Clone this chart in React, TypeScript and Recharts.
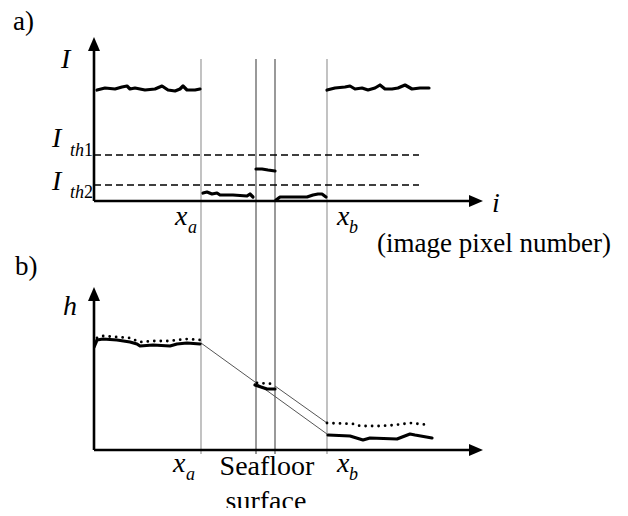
import React from 'react';
import { ComposedChart, Line, XAxis, YAxis, ReferenceLine } from 'recharts';

// pixel index along the scan line (i), intensity I (panel a) and height h (panel b)
const highLeftPix = [3, 11, 21, 28, 33, 36, 41, 51, 61, 68, 74, 81, 86, 89, 93, 101, 106];
const highLeftI = [111, 113, 112, 114, 115, 112, 113, 111, 112, 115, 111, 110, 112, 115, 111, 111, 112];
const highRightPix = [233, 241, 251, 256, 261, 268, 274, 281, 286, 291, 298, 304, 311, 318, 326, 335];
const highRightI = [111, 113, 114, 115, 112, 113, 111, 113, 116, 112, 112, 113, 116, 112, 113, 113];
const midPix = [162, 168, 174, 181];
const midI = [32, 32, 31, 30];
const lowLeftPix = [109, 113, 118, 123, 126, 139, 153, 156, 159];
const lowLeftI = [8, 9, 7, 8, 6, 6, 5, 7, 4];
const lowRightPix = [182, 186, 196, 206, 213, 219, 224, 228, 232];
const lowRightI = [1, 4, 4, 4, 4, 6, 7, 7, 4];

const hSolidLeftPix = [0, 3, 9, 23, 36, 43, 46, 59, 76, 83, 93, 106];
const hSolidLeft = [103, 110, 111, 110, 108, 106, 104, 105, 104, 106, 107, 106];
const hDotLeftPix = [3, 9, 23, 36, 43, 46, 59, 76, 83, 93, 106];
const hDotLeft = [112, 114, 113, 112, 109, 108, 109, 109, 110, 111, 110];
const hSolidMidPix = [161, 167, 173, 181];
const hSolidMid = [65, 63, 61, 61];
const hDotMidPix = [163, 181];
const hDotMid = [67, 66];
const hDotRightPix = [233, 261, 266, 286, 301, 316, 336];
const hDotRight = [27, 26, 24, 24, 25, 27, 25];
const hSolidRightPix = [234, 256, 269, 276, 303, 316, 321, 338];
const hSolidRight = [15, 14, 10, 12, 11, 16, 15, 12];

const xA = 107;
const xM1 = 162;
const xM2 = 181;
const xB = 233;
const thresholds = [46, 16]; // I_th1, I_th2
const thresholdEnd = 325;
const bridgeFrom = [[107, 107], [181, 64]];
const bridgeTo = [[233, 16], [233, 27]];

const zip = (xs: number[], ys: number[], key: string) =>
  xs.map((i, k) => ({ i, [key]: ys[k] }));

const ArrowLine = (p: any) => {
  const { x1, y1, x2, y2 } = p;
  const len = Math.hypot(x2 - x1, y2 - y1);
  const ux = (x2 - x1) / len;
  const uy = (y2 - y1) / len;
  const bx = x2 - ux * 14;
  const by = y2 - uy * 14;
  const pts = `${x2},${y2} ${bx - uy * 6},${by + ux * 6} ${bx + uy * 6},${by - ux * 6}`;
  return (
    <g>
      <line x1={x1} y1={y1} x2={bx} y2={by} stroke="#000" strokeWidth={2.6} />
      <polygon points={pts} fill="#000" />
    </g>
  );
};

const rm = { fontFamily: "'Liberation Serif', 'Times New Roman', serif" };
const it = { fontFamily: "'Liberation Serif', 'Times New Roman', serif", fontStyle: 'italic' as const };

// annotation layer in page coordinates (shifted back over the body margin)
const Labels = () => (
  <svg width={628} height={516} style={{ position: 'absolute', left: -8, top: -8, pointerEvents: 'none' }}>
    <text x={13} y={30} fontSize={27} style={rm}>a)</text>
    <text x={15} y={275} fontSize={27} style={rm}>b)</text>
    <text x={61} y={68} fontSize={28} style={it}>I</text>
    <text x={52} y={147} fontSize={28} style={it}>I</text>
    <text x={70} y={156} fontSize={18} style={rm}><tspan style={it}>th</tspan>1</text>
    <text x={52} y={190} fontSize={28} style={it}>I</text>
    <text x={70} y={198} fontSize={18} style={rm}><tspan style={it}>th</tspan>2</text>
    <text x={175} y={225} fontSize={28} style={it}>x</text>
    <text x={188} y={233} fontSize={18} style={it}>a</text>
    <text x={337} y={225} fontSize={28} style={it}>x</text>
    <text x={349} y={233} fontSize={18} style={it}>b</text>
    <text x={492} y={212} fontSize={28} style={it}>i</text>
    <text x={377} y={252} fontSize={27} style={rm}>(image pixel number)</text>
    <text x={63} y={315} fontSize={28} style={it}>h</text>
    <text x={173} y={472} fontSize={28} style={it}>x</text>
    <text x={186} y={480} fontSize={18} style={it}>a</text>
    <text x={337} y={472} fontSize={28} style={it}>x</text>
    <text x={349} y={480} fontSize={18} style={it}>b</text>
    <text x={267} y={475} fontSize={28} textAnchor="middle" style={rm}>Seafloor</text>
    <text x={266} y={510} fontSize={28} textAnchor="middle" style={rm}>surface</text>
  </svg>
);

const thick = { stroke: '#000', strokeWidth: 3.2, dot: false, strokeLinejoin: 'round' as const, strokeLinecap: 'round' as const, isAnimationActive: false, type: 'linear' as const };
const dotted = { stroke: '#000', strokeWidth: 2.8, dot: false, strokeDasharray: '0 6.5', strokeLinecap: 'round' as const, isAnimationActive: false, type: 'linear' as const };

const App = () => {
  const verticals = [
    { x: xA, color: '#9a9a9a' },
    { x: xM1, color: '#555' },
    { x: xM2, color: '#555' },
    { x: xB, color: '#9a9a9a' },
  ];
  return (
    <div style={{ position: 'relative', width: 612, height: 500 }}>
      <ComposedChart width={612} height={500} margin={{ top: 22, right: 136, bottom: 48, left: 86 }}>
        <XAxis type="number" dataKey="i" domain={[0, 390]} allowDataOverflow hide />
        <YAxis yAxisId="I" type="number" domain={[-259, 171]} allowDataOverflow hide />
        <YAxis yAxisId="h" type="number" domain={[-10, 420]} allowDataOverflow hide />

        {verticals.map((v) => (
          <ReferenceLine
            key={v.x}
            yAxisId="I"
            segment={[{ x: v.x, y: 142 }, { x: v.x, y: -253 }]}
            stroke={v.color}
            strokeWidth={1.2}
          />
        ))}
        {thresholds.map((t) => (
          <ReferenceLine
            key={t}
            yAxisId="I"
            segment={[{ x: 0, y: t }, { x: thresholdEnd, y: t }]}
            stroke="#000"
            strokeWidth={1.4}
            strokeDasharray="7 4"
          />
        ))}
        {bridgeFrom.map((f, k) => (
          <ReferenceLine
            key={k}
            yAxisId="h"
            segment={[{ x: f[0], y: f[1] }, { x: bridgeTo[k][0], y: bridgeTo[k][1] }]}
            stroke="#555"
            strokeWidth={1}
          />
        ))}

        {/* axes with arrow heads */}
        <ReferenceLine yAxisId="I" segment={[{ x: 0, y: 0 }, { x: 0, y: 164 }]} shape={ArrowLine} />
        <ReferenceLine yAxisId="I" segment={[{ x: 0, y: 0 }, { x: 389, y: 0 }]} shape={ArrowLine} />
        <ReferenceLine yAxisId="h" segment={[{ x: 0, y: 0 }, { x: 0, y: 163 }]} shape={ArrowLine} />
        <ReferenceLine yAxisId="h" segment={[{ x: 0, y: 0 }, { x: 389, y: 0 }]} shape={ArrowLine} />

        <Line yAxisId="I" data={zip(highLeftPix, highLeftI, 'I')} dataKey="I" {...thick} />
        <Line yAxisId="I" data={zip(highRightPix, highRightI, 'I')} dataKey="I" {...thick} />
        <Line yAxisId="I" data={zip(midPix, midI, 'I')} dataKey="I" {...thick} />
        <Line yAxisId="I" data={zip(lowLeftPix, lowLeftI, 'I')} dataKey="I" {...thick} />
        <Line yAxisId="I" data={zip(lowRightPix, lowRightI, 'I')} dataKey="I" {...thick} />

        <Line yAxisId="h" data={zip(hSolidLeftPix, hSolidLeft, 'h')} dataKey="h" {...thick} />
        <Line yAxisId="h" data={zip(hDotLeftPix, hDotLeft, 'h')} dataKey="h" {...dotted} />
        <Line yAxisId="h" data={zip(hSolidMidPix, hSolidMid, 'h')} dataKey="h" {...thick} />
        <Line yAxisId="h" data={zip(hDotMidPix, hDotMid, 'h')} dataKey="h" {...dotted} />
        <Line yAxisId="h" data={zip(hDotRightPix, hDotRight, 'h')} dataKey="h" {...dotted} />
        <Line yAxisId="h" data={zip(hSolidRightPix, hSolidRight, 'h')} dataKey="h" {...thick} />
      </ComposedChart>
      <Labels />
    </div>
  );
};

export default App;
